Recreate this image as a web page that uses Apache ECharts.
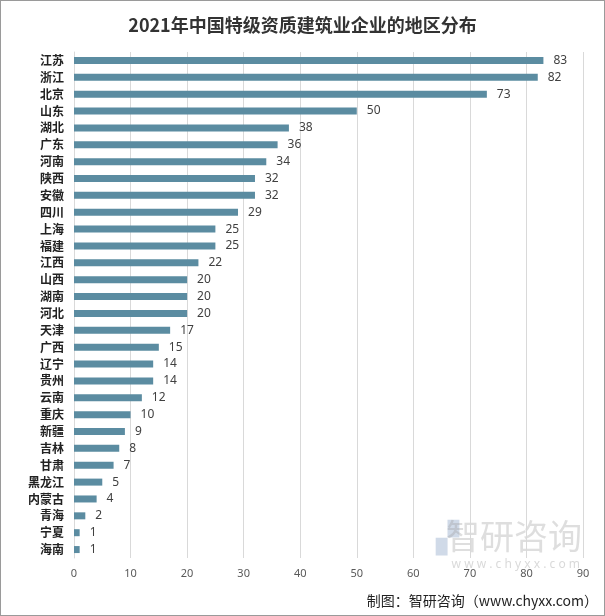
<!DOCTYPE html>
<html><head><meta charset="utf-8">
<script src="https://cdn.jsdelivr.net/npm/echarts@6/dist/echarts.min.js"></script>
<style>html,body{margin:0;padding:0;background:#fff}#c{width:605px;height:616px;box-sizing:border-box;border:1px solid #9a9a9a}</style>
</head><body><div id="c"></div>
<script>
const categories = ['江苏','浙江','北京','山东','湖北','广东','河南','陕西','安徽','四川','上海','福建','江西','山西','湖南','河北','天津','广西','辽宁','贵州','云南','重庆','新疆','吉林','甘肃','黑龙江','内蒙古','青海','宁夏','海南'];
const values = [83,82,73,50,38,36,34,32,32,29,25,25,22,20,20,20,17,15,14,14,12,10,9,8,7,5,4,2,1,1];
const xTicks = [0,10,20,30,40,50,60,70,80,90];
const chart = echarts.init(document.getElementById('c'), null, {renderer:'canvas'});
chart.setOption({
  animation:false,
  title:{text:'2021年中国特级资质建筑业企业的地区分布',left:'center',top:10,
    textStyle:{fontFamily:'Noto Sans CJK SC',fontWeight:'bold',fontSize:18,color:'#333'}},
  grid:{left:73,right:21,top:51,bottom:57,containLabel:false},
  xAxis:{type:'value',min:0,max:90,interval:10,
    axisLine:{show:false},axisTick:{show:false},
    splitLine:{lineStyle:{color:'#d9d9d9',width:1}},
    axisLabel:{color:'#595959',fontSize:11,margin:10,fontFamily:'Noto Sans',
      formatter:v=>xTicks.includes(v)?String(v):''}},
  yAxis:{type:'category',data:categories,inverse:true,
    axisLine:{show:true,lineStyle:{color:'#d9d9d9'}},axisTick:{show:false},
    axisLabel:{color:'#222',fontSize:12,fontWeight:'bold',fontFamily:'Noto Sans CJK SC',margin:10}},
  series:[{type:'bar',data:values,barWidth:7,itemStyle:{color:'#5b8ca1'},
    label:{show:true,position:'right',distance:10,color:'#404040',fontSize:12,fontFamily:'Noto Sans'}}],
  graphic:[
    {type:'text',right:145,bottom:60,style:{text:'▞',fontSize:30,fill:'rgba(120,150,190,0.35)'}},
    {type:'text',right:22,bottom:62,style:{text:'智研咨询',fontSize:34,fontFamily:'Noto Sans CJK SC',fill:'rgba(160,160,160,0.35)'}},
    {type:'text',right:24,bottom:44,style:{text:'w w w . c h y x x . c o m',fontSize:12,fontFamily:'Noto Sans',fill:'rgba(160,160,160,0.4)'}},
    {type:'text',right:6,bottom:7,style:{text:'制图：智研咨询（www.chyxx.com）',fontSize:14,fontFamily:'Noto Sans CJK SC',fill:'#222'}}
  ]
});
</script></body></html>
